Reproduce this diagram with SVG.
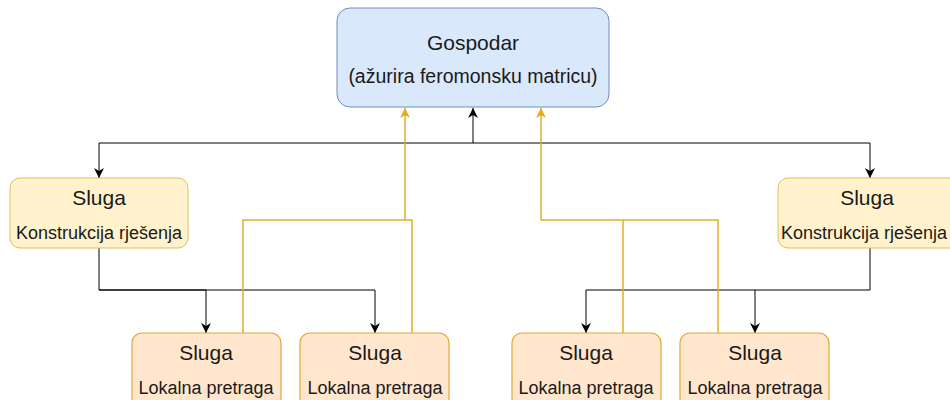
<svg xmlns="http://www.w3.org/2000/svg" width="950" height="400" viewBox="0 0 950 400">
<defs>
<style>
text{font-family:"Liberation Sans",Arial,sans-serif;fill:#1a1a1a;text-anchor:middle}
.t1{font-size:21px}
.t2{font-size:18px}
.t3{font-size:19.5px}
.blk{fill:none;stroke:#000;stroke-width:1}
.org{fill:none;stroke:#e1ad30;stroke-width:1.5}
.master{fill:#dae8fc;stroke:#6c8ebf;stroke-width:1}
.kon{fill:#fff2cc;stroke:#e1bd5a;stroke-width:1}
.lok{fill:#ffe6cc;stroke:#dea83a;stroke-width:1.2}
</style>
<marker id="ab" viewBox="0 0 10 10" refX="10" refY="5" markerWidth="10" markerHeight="10" markerUnits="userSpaceOnUse" orient="auto">
<path d="M0,0 L10,5 L0,10 L3,5 Z" fill="#000"/>
</marker>
<marker id="ao" viewBox="0 0 10 10" refX="10" refY="5" markerWidth="10" markerHeight="10" markerUnits="userSpaceOnUse" orient="auto">
<path d="M0,0 L10,5 L0,10 L3,5 Z" fill="#e6a817"/>
</marker>
</defs>
<g id="connectors">
<path class="blk" d="M473,143 V108" marker-end="url(#ab)"/>
<path class="blk" d="M473,143 H99 V178" marker-end="url(#ab)"/>
<path class="blk" d="M473,143 H870 V178" marker-end="url(#ab)"/>
<path class="blk" d="M99,248 V290 H206 V333" marker-end="url(#ab)"/>
<path class="blk" d="M99,290 H375 V333" marker-end="url(#ab)"/>
<path class="blk" d="M870,248 V290 H755 V333" marker-end="url(#ab)"/>
<path class="blk" d="M755,290 H586 V333" marker-end="url(#ab)"/>
<path class="org" d="M243,333 V220 H405 V108" marker-end="url(#ao)"/>
<path class="org" d="M412,333 V220 H405"/>
<path class="org" d="M623,333 V220 H541 V108" marker-end="url(#ao)"/>
<path class="org" d="M718,333 V220 H623"/>
</g>
<g id="gospodar">
<rect class="master" x="337" y="8" width="272" height="99" rx="13"/>
<text class="t1" x="473" y="50">Gospodar</text>
<text class="t3" x="473" y="83">(ažurira feromonsku matricu)</text>
</g>
<g id="sluga-konstrukcija-1">
<rect class="kon" x="10" y="178" width="178" height="70" rx="10"/>
<text class="t1" x="99" y="205">Sluga</text>
<text class="t2" x="99" y="239">Konstrukcija rješenja</text>
</g>
<g id="sluga-konstrukcija-2">
<rect class="kon" x="778" y="178" width="182" height="70" rx="10"/>
<text class="t1" x="867" y="205">Sluga</text>
<text class="t2" x="864" y="239">Konstrukcija rješenja</text>
</g>
<g id="sluga-lokalna-1">
<rect class="lok" x="132" y="333" width="149" height="75" rx="10"/>
<text class="t1" x="206" y="360">Sluga</text>
<text class="t2" x="206" y="394">Lokalna pretraga</text>
</g>
<g id="sluga-lokalna-2">
<rect class="lok" x="300" y="333" width="149" height="75" rx="10"/>
<text class="t1" x="375" y="360">Sluga</text>
<text class="t2" x="375" y="394">Lokalna pretraga</text>
</g>
<g id="sluga-lokalna-3">
<rect class="lok" x="512" y="333" width="149" height="75" rx="10"/>
<text class="t1" x="586" y="360">Sluga</text>
<text class="t2" x="586" y="394">Lokalna pretraga</text>
</g>
<g id="sluga-lokalna-4">
<rect class="lok" x="680" y="333" width="149" height="75" rx="10"/>
<text class="t1" x="755" y="360">Sluga</text>
<text class="t2" x="755" y="394">Lokalna pretraga</text>
</g>
</svg>
